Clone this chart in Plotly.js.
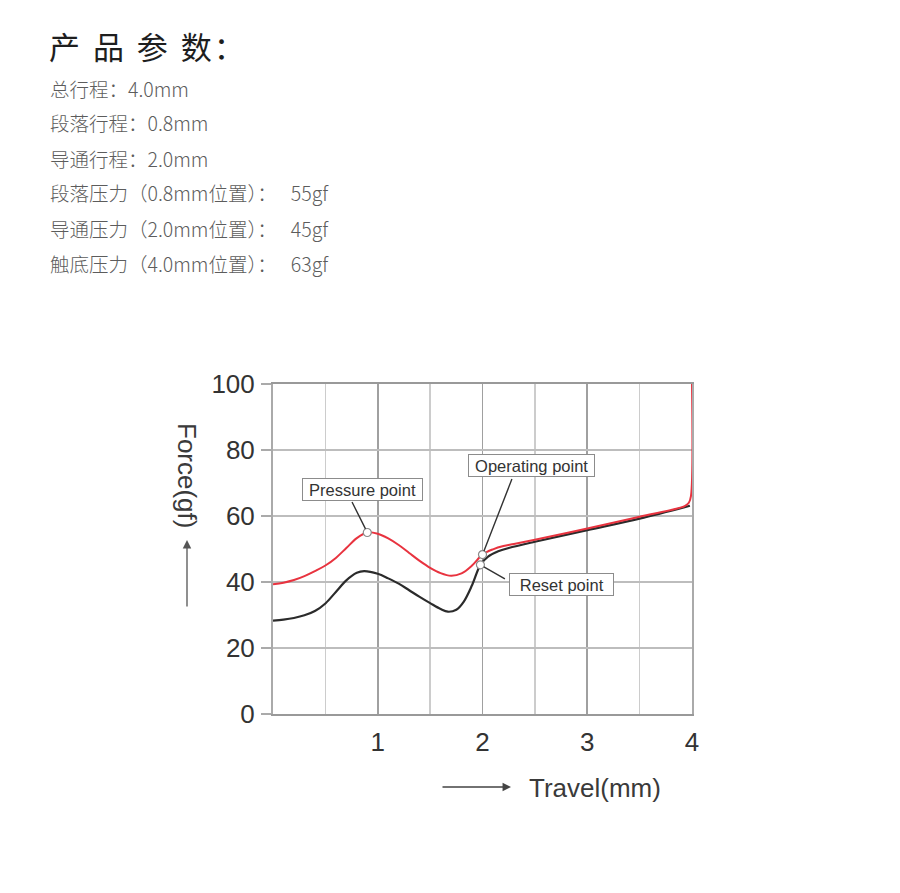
<!DOCTYPE html>
<html>
<head>
<meta charset="utf-8">
<script src="https://cdn.plot.ly/plotly-3.0.1.min.js"></script>
<style>html,body{margin:0;padding:0;background:#fff;}#chart{width:900px;height:893px;}</style>
</head>
<body>
<div id="chart"></div>
<script>
// ---- data ----
const pressX = [0, 0.1, 0.2, 0.3, 0.4, 0.5, 0.6, 0.7, 0.8, 0.9, 1.0, 1.1, 1.2, 1.3, 1.4, 1.5, 1.6, 1.7, 1.8, 1.9, 2.0, 2.1, 2.2, 2.3, 2.5, 3.0, 3.5, 3.93, 3.97, 3.99, 4.0];
const pressY = [39.3, 39.8, 40.6, 41.8, 43.3, 45.0, 47.3, 50.3, 53.3, 55, 54.6, 53.2, 51.2, 48.8, 46.4, 44.3, 42.7, 41.9, 42.6, 45, 48.3, 49.9, 50.9, 51.5, 52.8, 56.2, 59.8, 63, 64, 66, 100];
const releaseX = [0, 0.1, 0.2, 0.3, 0.4, 0.5, 0.6, 0.7, 0.8, 0.87, 1.0, 1.1, 1.2, 1.3, 1.4, 1.5, 1.6, 1.67, 1.75, 1.82, 1.9, 1.98, 2.05, 2.15, 2.25, 2.5, 3.0, 3.5, 3.98];
const releaseY = [28.3, 28.6, 29.1, 29.9, 31.2, 33.5, 37, 40.5, 42.8, 43.3, 42.5, 41.1, 39.5, 37.5, 35.5, 33.6, 31.8, 31, 31.6, 34, 39, 45.2, 47.6, 49.3, 50.3, 52.2, 55.7, 59.2, 63.1];
const pointNames = ['Pressure point', 'Operating point', 'Reset point'];
const pointX = [0.9, 2.0, 1.98];
const pointY = [55, 48.3, 45.2];
const xTicks = [1, 2, 3, 4];
const xMinor = [0.5, 1.5, 2.5, 3.5];
const yTicks = [0, 20, 40, 60, 80, 100];
const heading = '产\u2005\u2006品\u2005\u2006参\u2005\u2006数\u200A：';
const specLines = [
  '总行程：4.0mm',
  '段落行程：0.8mm',
  '导通行程：2.0mm',
  '段落压力（0.8mm位置）：\u2002 55gf',
  '导通压力（2.0mm位置）：\u2002 45gf',
  '触底压力（4.0mm位置）：\u2002 63gf'
];

// ---- layout helpers (pixel -> paper) ----
const L = 273, R = 692, T = 384, B = 714;
const px = v => (v - L) / (R - L);
const py = v => (B - v) / (B - T);

const traces = [
  {x: releaseX, y: releaseY, type: 'scatter', mode: 'lines',
   line: {color: '#2b2b2b', width: 2.2, shape: 'spline', smoothing: 1}, hoverinfo: 'skip'},
  {x: pressX, y: pressY, type: 'scatter', mode: 'lines',
   line: {color: '#e8333f', width: 2, shape: 'spline', smoothing: 1}, hoverinfo: 'skip'},
  {x: pointX, y: pointY, type: 'scatter', mode: 'markers', text: pointNames,
   marker: {size: 8, color: '#ffffff', line: {color: '#8a8a8a', width: 1.2}}, hoverinfo: 'text'}
];

const annotations = [];
// heading + spec lines
annotations.push({xref: 'paper', yref: 'paper', x: px(47), y: py(46), xanchor: 'left', yanchor: 'middle',
  text: heading, showarrow: false, font: {family: 'Noto Sans CJK SC', size: 31, color: '#1e1e1e'}});
specLines.forEach((t, i) => {
  annotations.push({xref: 'paper', yref: 'paper', x: px(48), y: py(88 + 35 * i), xanchor: 'left', yanchor: 'middle',
    text: t, showarrow: false, font: {family: 'Noto Sans CJK SC', size: 19.5, weight: 300, color: '#5c5c5c'}});
});
// axis titles
annotations.push({xref: 'paper', yref: 'paper', x: px(187), y: py(475), xanchor: 'center', yanchor: 'middle',
  text: 'Force(gf)', textangle: 90, showarrow: false, font: {family: 'Liberation Sans', size: 26, color: '#3a3a3a'}});
annotations.push({xref: 'paper', yref: 'paper', x: px(187), y: py(540), text: '', showarrow: true,
  ax: 0, ay: 68, arrowhead: 2, arrowsize: 1.3, arrowwidth: 1.3, arrowcolor: '#555'});
annotations.push({xref: 'paper', yref: 'paper', x: px(527), y: py(788), xanchor: 'left', yanchor: 'middle',
  text: 'Travel(mm)', showarrow: false, font: {family: 'Liberation Sans', size: 26, color: '#3a3a3a'}});
annotations.push({xref: 'paper', yref: 'paper', x: px(511), y: py(787), text: '', showarrow: true,
  ax: -70, ay: 0, arrowhead: 2, arrowsize: 1.3, arrowwidth: 1.3, arrowcolor: '#444'});

// callout boxes
const boxPos = [[362, 489], [531.5, 465], [561.5, 584.5]];
const boxPad = [' ', ' ', '\u2002'];
const leaderOff = [[-16, -32], [30, -77], [26, 15]];
pointNames.forEach((n, i) => {
  annotations.push({xref: 'paper', yref: 'paper', x: px(boxPos[i][0]), y: py(boxPos[i][1]),
    xanchor: 'center', yanchor: 'middle', text: boxPad[i] + n + boxPad[i], showarrow: false,
    font: {family: 'Liberation Sans', size: 16.5, color: '#333'},
    bgcolor: '#ffffff', bordercolor: '#8c8c8c', borderwidth: 1, borderpad: 1.5});
  annotations.push({x: pointX[i], y: pointY[i], xref: 'x', yref: 'y', text: '', showarrow: true,
    ax: leaderOff[i][0], ay: leaderOff[i][1], arrowhead: 0, arrowwidth: 1.4, arrowcolor: '#333', standoff: 4});
});

const layout = {
  width: 900, height: 893,
  margin: {l: L, r: 900 - R, t: T, b: 893 - B, pad: 0},
  paper_bgcolor: '#ffffff', plot_bgcolor: '#ffffff',
  showlegend: false,
  font: {family: 'Liberation Sans', color: '#333'},
  xaxis: {range: [0, 4], tickmode: 'array', tickvals: xTicks, ticktext: xTicks.map(String),
    showgrid: true, gridcolor: '#a0a0a0', gridwidth: 1.6,
    minor: {tickmode: 'array', tickvals: xMinor, showgrid: true, gridcolor: '#cccccc', gridwidth: 1.6},
    showline: true, linecolor: '#999', linewidth: 2, mirror: true, zeroline: false,
    ticks: '', tickfont: {family: 'Liberation Sans', size: 26, color: '#333'}, ticklabelstandoff: 4,
    fixedrange: true},
  yaxis: {range: [0, 100], tickmode: 'array', tickvals: yTicks,
    showgrid: true, gridcolor: '#bdbdbd', gridwidth: 1.6,
    showline: true, linecolor: '#aaa', linewidth: 2, mirror: true, zeroline: false,
    ticks: 'outside', ticklen: 10, tickwidth: 1.6, tickcolor: '#aaa',
    tickfont: {family: 'Liberation Sans', size: 26, color: '#333'}, ticklabelstandoff: 1,
    fixedrange: true},
  annotations: annotations
};

Plotly.newPlot('chart', traces, layout, {displayModeBar: false, staticPlot: true});
</script>
</body>
</html>
